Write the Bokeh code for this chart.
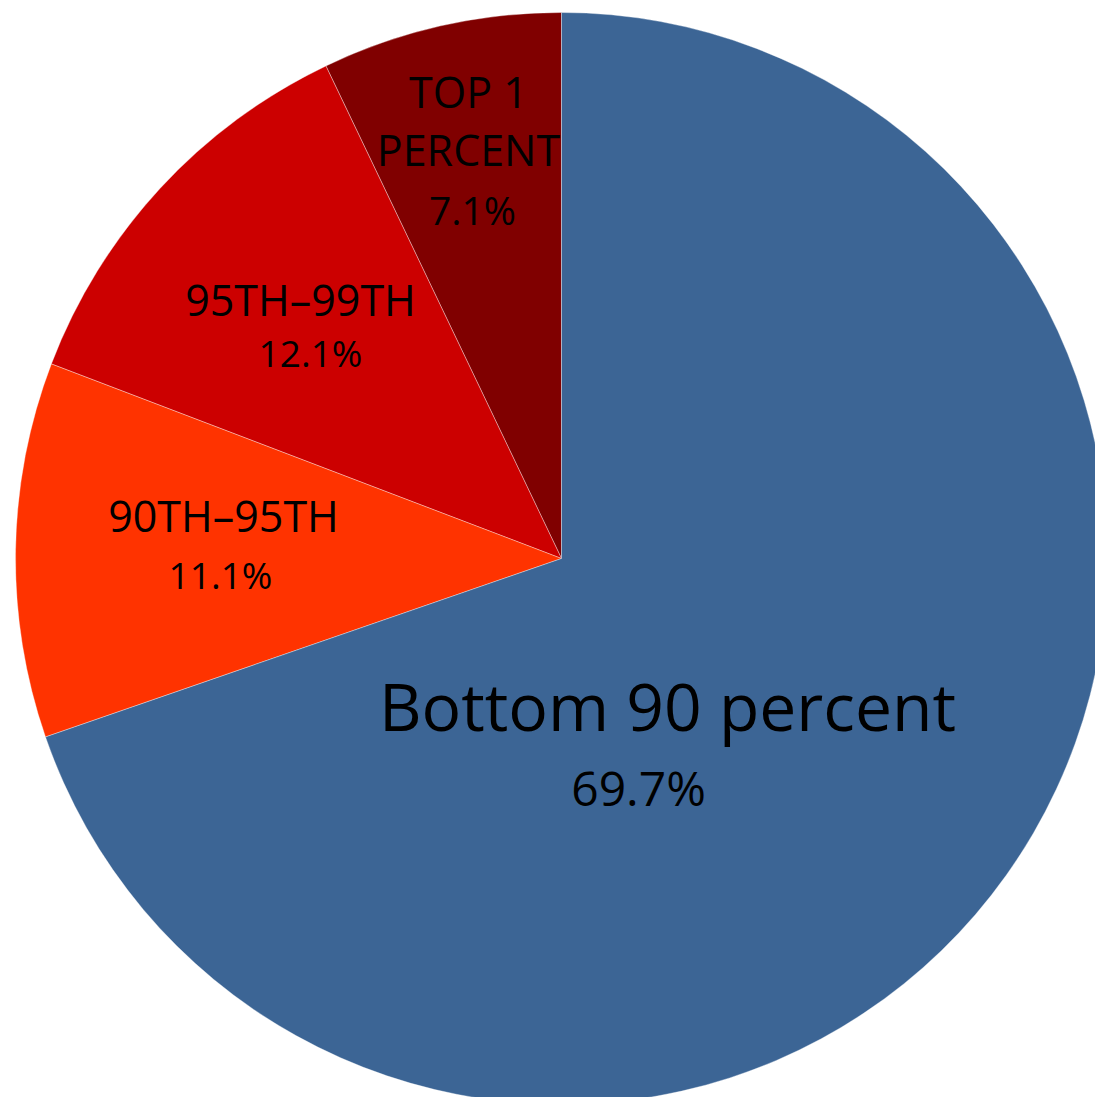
from bokeh.plotting import figure
from bokeh.models import Range1d, ColumnDataSource
from bokeh.core.properties import value
from bokeh.embed import file_html
from bokeh.resources import INLINE
import math

# ---- data ----
groups = ["TOP 1 PERCENT", "95TH\u201399TH", "90TH\u201395TH", "Bottom 90 percent"]
shares = [7.1, 12.1, 11.1, 69.7]
colors = ["#800000", "#cc0000", "#ff3300", "#3c6595"]
label_lines = [["TOP 1", "PERCENT"], ["95TH\u201399TH"], ["90TH\u201395TH"], ["Bottom 90 percent"]]
pct_labels = ["7.1%", "12.1%", "11.1%", "69.7%"]

# ---- layout (page pixel coordinates, y downward -> negated) ----
CX, CY, R = 561, 558, 546
# label anchor (center x, first baseline y) and percent anchor per slice
label_pos = [(468, 109), (300, 317), (223, 533), (667, 732)]
label_step = [58, 0, 0, 0]
pct_pos = [(472, 225), (310, 368), (220, 590), (638, 807)]
label_fs = [43, 43, 43, 66]
pct_fs = [39, 37, 37, 48]
BASE_FIX = 0.42  # shift so the glyph baseline lands on the anchor

total = sum(shares)
starts, ends = [], []
a = math.pi / 2
for s in shares:
    starts.append(a)
    a += 2 * math.pi * s / total
    ends.append(a)

p = figure(width=1095, height=1097, output_backend="svg", toolbar_location=None,
           x_range=Range1d(0, 1095), y_range=Range1d(-1097, 0),
           min_border=0)
p.axis.visible = False
p.grid.visible = False
p.outline_line_color = None
p.background_fill_color = "white"

src = ColumnDataSource(dict(start=starts, end=ends, color=colors, group=groups))
p.wedge(x=CX, y=-CY, radius=R, start_angle="start", end_angle="end",
        fill_color="color", line_color="white", line_alpha=0.35, line_width=1,
        direction="anticlock", source=src)

for i in range(len(groups)):
    lx, ly = label_pos[i]
    fs = label_fs[i]
    for j, line in enumerate(label_lines[i]):
        p.text(x=[lx], y=[-(ly + j * label_step[i] - BASE_FIX * fs)], text=[line],
               text_font=value("Open Sans"), text_font_size=f"{fs}px",
               text_align="center", text_baseline="alphabetic", text_color="black")
    px, py = pct_pos[i]
    fs = pct_fs[i]
    p.text(x=[px], y=[-(py - BASE_FIX * fs)], text=[pct_labels[i]],
           text_font=value("Open Sans"), text_font_size=f"{fs}px",
           text_align="center", text_baseline="alphabetic", text_color="black")

open("out.html", "w").write(file_html(p, INLINE))
